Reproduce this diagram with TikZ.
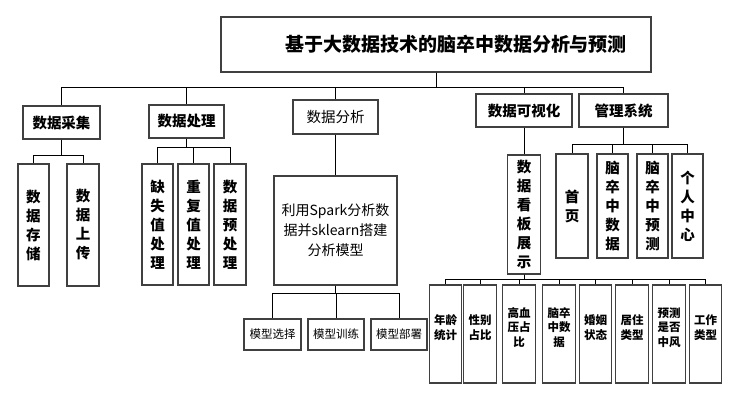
\documentclass[tikz,border=0pt]{standalone}
\usepackage{fontspec}
\newfontfamily\cjk{Noto Sans CJK SC}
\begin{document}
\begin{tikzpicture}[x=1pt,y=-1pt,
  box/.style={draw=black!75, line width=1.1pt, fill=white, inner sep=0pt},
  titlebox/.style={box, font=\cjk\bfseries\fontsize{19}{22}\selectfont},
  lvlone/.style={box, align=center, minimum height=33pt, font=\cjk\bfseries\fontsize{14.5}{18}\selectfont},
  lvlplain/.style={box, align=center, font=\cjk\fontsize{14.5}{18}\selectfont},
  vbox/.style={box, align=center, font=\cjk\bfseries\fontsize{14.5}{19}\selectfont},
  sparkbox/.style={box, align=center, font=\cjk\fontsize{14}{20}\selectfont},
  modelbox/.style={box, align=center, minimum width=56pt, minimum height=31pt, font=\cjk\fontsize{11.5}{14}\selectfont},
  smallbox/.style={box, align=center, minimum width=32.5pt, minimum height=98pt, text depth=14pt, font=\cjk\bfseries\fontsize{11.5}{14.5}\selectfont},
  conn/.style={draw=black, line width=1pt}]
\useasboundingbox (0,0) rectangle (740,404);

% title
\node[titlebox, minimum width=430pt, minimum height=55pt] (title) at (436,44.5) {\hspace*{40pt}基于大数据技术的脑卒中数据分析与预测};

% level 1
\node[lvlone, minimum width=77pt] (caiji) at (61.5,122.5) {数据采集};
\node[lvlone, minimum width=75pt] (chuli) at (186.5,121.5) {数据处理};
\node[lvlplain, minimum width=85pt, minimum height=34pt] (fenxi) at (335.5,117) {数据分析};
\node[lvlone, minimum width=96pt] (keshi) at (524,110.5) {数据可视化};
\node[lvlone, minimum width=89pt] (guanli) at (623.5,110.5) {管理系统};

% 数据采集 children
\node[vbox, minimum width=31pt, minimum height=122pt] (cunchu) at (33.5,225) {数\\据\\存\\储};
\node[vbox, minimum width=32pt, minimum height=122pt] (shangchuan) at (83,225) {数\\据\\上\\传};

% 数据处理 children
\node[vbox, minimum width=31pt, minimum height=121pt] (queshi) at (157.5,224.5) {缺\\失\\值\\处\\理};
\node[vbox, minimum width=31pt, minimum height=121pt] (chongfu) at (193.5,224.5) {重\\复\\值\\处\\理};
\node[vbox, minimum width=32pt, minimum height=121pt] (yuchuli) at (230,224.5) {数\\据\\预\\处\\理};

% 数据分析 children
\node[sparkbox, minimum width=123pt, minimum height=109pt] (spark) at (335.5,230.5) {利用Spark分析数\\据并sklearn搭建\\分析模型};
\node[modelbox, minimum width=57pt] (xuanze) at (272.5,334.5) {模型选择};
\node[modelbox] (xunlian) at (336,334.5) {模型训练};
\node[modelbox] (bushu) at (399,334.5) {模型部署};

% 数据可视化 children
\node[vbox, minimum width=33pt, minimum height=119pt] (kanban) at (524,214.5) {数\\据\\看\\板\\展\\示};
\node[smallbox] (nianling) at (445.5,334) {年龄\\统计};
\node[smallbox] (xingbie) at (480,334) {性别\\占比};
\node[smallbox] (gaoxueya) at (519,334) {高血\\压占\\比};
\node[smallbox] (naocuzhong) at (559,334) {脑卒\\中数\\据};
\node[smallbox] (hunyin) at (595.5,334) {婚姻\\状态};
\node[smallbox] (juzhu) at (632,334) {居住\\类型};
\node[smallbox] (yuce) at (669,334) {预测\\是否\\中风};
\node[smallbox] (gongzuo) at (705.5,334) {工作\\类型};

% 管理系统 children
\node[vbox, minimum width=32pt, minimum height=104pt] (shouye) at (572,206) {首\\页};
\node[vbox, minimum width=31pt, minimum height=104pt] (ncsj) at (612.5,206) {脑\\卒\\中\\数\\据};
\node[vbox, minimum width=31pt, minimum height=104pt] (ncyc) at (652.5,206) {脑\\卒\\中\\预\\测};
\node[vbox, minimum width=31pt, minimum height=104pt] (geren) at (687.5,206) {个\\人\\中\\心};

% bus levels
\coordinate (b0) at (0,88);
\coordinate (b1) at (0,155);
\coordinate (b2) at (0,148);
\coordinate (b3) at (0,293);
\coordinate (b4) at (0,279);
\coordinate (b5) at (0,145);

\foreach \c in {caiji,chuli,fenxi,keshi,guanli}
  \draw[conn] (title.south) -- (title.south |- b0) -| (\c.north);
\foreach \c in {cunchu,shangchuan}
  \draw[conn] (caiji.south) -- (caiji.south |- b1) -| (\c.north);
\foreach \c in {queshi,chongfu,yuchuli}
  \draw[conn] (chuli.south) -- (chuli.south |- b2) -| (\c.north);
\draw[conn] (fenxi.south) -- (spark.north);
\foreach \c in {xuanze,xunlian,bushu}
  \draw[conn] (spark.south) -- (spark.south |- b3) -| (\c.north);
\draw[conn] (keshi.south) -- (kanban.north);
\foreach \c in {nianling,xingbie,gaoxueya,naocuzhong,hunyin,juzhu,yuce,gongzuo}
  \draw[conn] (kanban.south) -- (kanban.south |- b4) -| (\c.north);
\foreach \c in {shouye,ncsj,ncyc,geren}
  \draw[conn] (guanli.south) -- (guanli.south |- b5) -| (\c.north);
\end{tikzpicture}
\end{document}
